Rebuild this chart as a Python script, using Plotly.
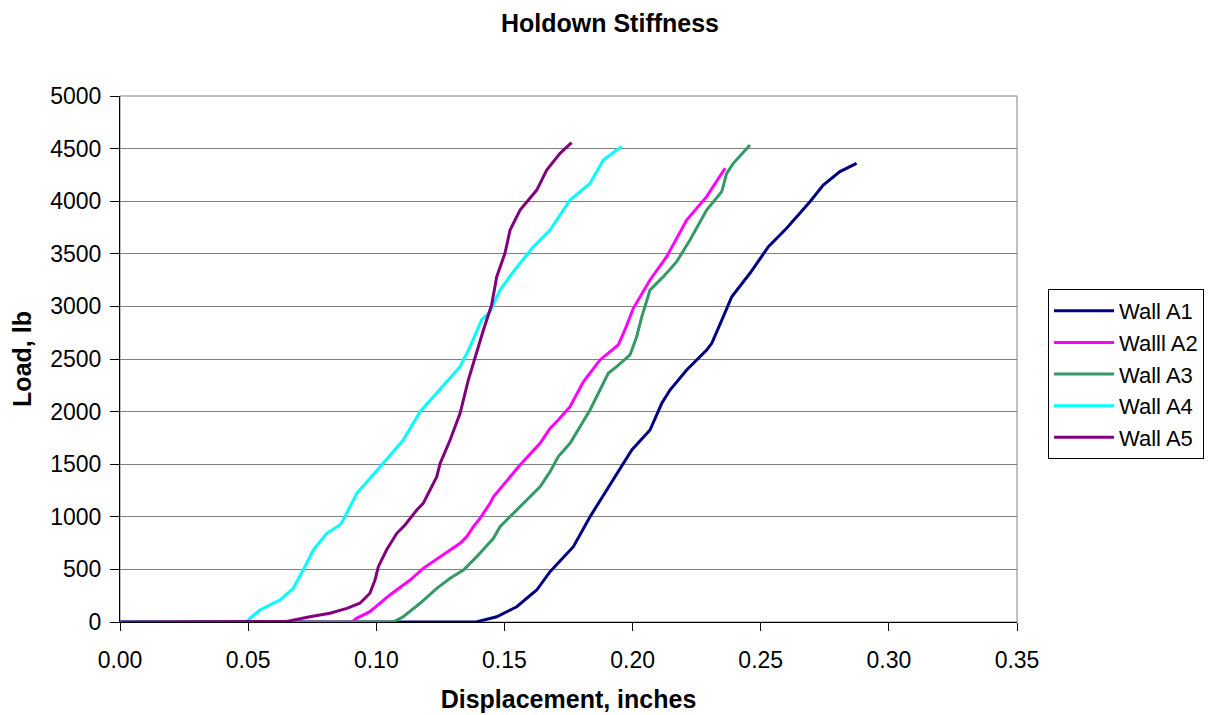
import plotly.graph_objects as go

# Wall A1
a1_x = [0.0, 0.139, 0.1405, 0.147, 0.1548, 0.1626, 0.1678, 0.1769, 0.1834, 0.1925, 0.1997, 0.2068,
        0.2114, 0.2146, 0.2211, 0.2289, 0.2309, 0.2354, 0.2387, 0.2458, 0.2530, 0.2601, 0.2692,
        0.2744, 0.2809, 0.2874]
a1_y = [0, 0, 10, 50, 145, 304, 478, 716, 1001, 1350, 1635, 1825,
        2079, 2205, 2395, 2586, 2649, 2902, 3092, 3315, 3568, 3742, 3995,
        4154, 4281, 4360]

# Walll A2
a2_x = [0.0, 0.0905, 0.0923, 0.0975, 0.1053, 0.1132, 0.1183, 0.1262, 0.1327, 0.1353, 0.1379, 0.1405,
        0.1444, 0.1457, 0.1561, 0.1639, 0.1678, 0.1710, 0.1756, 0.1808, 0.1873, 0.1944, 0.1970,
        0.2003, 0.2068, 0.2133, 0.2211, 0.2289, 0.2361]
a2_y = [0, 0, 35, 98, 257, 399, 510, 637, 748, 811, 906, 986,
        1128, 1191, 1492, 1699, 1841, 1920, 2047, 2284, 2491, 2633, 2776,
        2982, 3251, 3473, 3821, 4043, 4313]

# Wall A3
a3_x = [0.0, 0.1066, 0.1105, 0.1171, 0.1236, 0.1288, 0.1340, 0.1392, 0.1457, 0.1483, 0.1535, 0.1561,
        0.1587, 0.1639, 0.1678, 0.1710, 0.1756, 0.1834, 0.1905, 0.1938, 0.1990, 0.2016, 0.2036,
        0.2068, 0.2120, 0.2172, 0.2224, 0.2289, 0.2348, 0.2367, 0.2393, 0.2458]
a3_y = [0, 0, 50, 178, 320, 415, 494, 621, 796, 906, 1033, 1096,
        1160, 1286, 1429, 1572, 1699, 2015, 2364, 2427, 2538, 2712, 2902,
        3156, 3283, 3425, 3632, 3916, 4091, 4265, 4360, 4534]

# Wall A4
a4_x = [0.0, 0.0495, 0.0507, 0.0546, 0.0624, 0.0676, 0.0715, 0.0754, 0.0807, 0.0858, 0.0871, 0.0924,
        0.1027, 0.1105, 0.1171, 0.1236, 0.1281, 0.1327, 0.1366, 0.1411, 0.1444, 0.1483, 0.1535,
        0.1613, 0.1678, 0.1756, 0.1834, 0.1886, 0.1938, 0.1958]
a4_y = [0, 0, 35, 114, 209, 320, 494, 684, 843, 922, 970, 1223,
        1508, 1730, 1999, 2174, 2300, 2427, 2617, 2871, 2950, 3156, 3330,
        3568, 3726, 4011, 4170, 4392, 4487, 4518]

# Wall A5
a5_x = [0.0, 0.065, 0.0741, 0.0819, 0.0885, 0.0936, 0.0975, 0.0995, 0.1008, 0.1040, 0.1080, 0.1112,
        0.1158, 0.1183, 0.1236, 0.1249, 0.1288, 0.1327, 0.1359, 0.1378, 0.1418, 0.1450, 0.1470,
        0.1502, 0.1522, 0.1561, 0.1626, 0.1665, 0.1717, 0.1762]
a5_y = [0, 5, 50, 83, 130, 178, 273, 399, 526, 684, 843, 922,
        1065, 1128, 1381, 1508, 1730, 1984, 2300, 2459, 2776, 3013, 3283,
        3505, 3726, 3916, 4106, 4297, 4455, 4556]

names = ["Wall A1", "Walll A2", "Wall A3", "Wall A4", "Wall A5"]
colors = ["#000080", "#FF00FF", "#339966", "#00FFFF", "#800080"]
xs = [a1_x, a2_x, a3_x, a4_x, a5_x]
ys = [a1_y, a2_y, a3_y, a4_y, a5_y]

x_ticks = [0.0, 0.05, 0.10, 0.15, 0.20, 0.25, 0.30, 0.35]
x_tick_labels = ["0.00", "0.05", "0.10", "0.15", "0.20", "0.25", "0.30", "0.35"]
y_ticks = [0, 500, 1000, 1500, 2000, 2500, 3000, 3500, 4000, 4500, 5000]

fig = go.Figure()
for n, c, x, y in zip(names, colors, xs, ys):
    fig.add_trace(go.Scatter(x=x, y=y, mode="lines", name=n,
                             line=dict(color=c, width=3)))

font_family = "Liberation Sans, Arial, sans-serif"
W, H = 1221, 715
L, T, PW, PH = 112, 88, 897, 526
fig.update_layout(
    width=W, height=H,
    paper_bgcolor="white", plot_bgcolor="white",
    margin=dict(l=L, r=W - L - PW, t=T, b=H - T - PH),
    title=dict(text="<b>Holdown Stiffness</b>", x=602 / W, xanchor="center",
               y=1 - 15 / H, yanchor="middle",
               font=dict(family=font_family, size=25, color="black")),
    font=dict(family=font_family, color="black"),
    showlegend=True,
    legend=dict(x=1.0346, y=0.633, xanchor="left", yanchor="top",
                bordercolor="black", borderwidth=1, bgcolor="white",
                font=dict(family=font_family, size=22, color="black"),
                tracegroupgap=0, itemwidth=60),
    xaxis=dict(range=[0, 0.35], tickvals=x_ticks, ticktext=x_tick_labels,
               showgrid=False, zeroline=False,
               showline=True, linecolor="black", linewidth=1, mirror=False,
               ticks="outside", ticklen=8, tickcolor="black",
               ticklabelstandoff=9,
               tickfont=dict(size=23, color="black"),
               title=dict(text="<b>Displacement, inches</b>", font=dict(size=25, color="black"),
                          standoff=18)),
    yaxis=dict(range=[0, 5000], tickvals=y_ticks,
               showgrid=True, gridcolor="#808080", gridwidth=1, zeroline=False,
               showline=True, linecolor="black", linewidth=1,
               ticks="outside", ticklen=9, tickcolor="black",
               ticklabelstandoff=4,
               tickfont=dict(size=23, color="black"),
               title=dict(text="<b>Load, lb</b>", font=dict(size=25, color="black"),
                          standoff=12)),
)
# plot-area border (top and right)
fig.add_shape(type="rect", xref="paper", yref="paper", x0=0, y0=0, x1=1, y1=1,
              line=dict(color="#808080", width=1), layer="below")

fig.write_html("out.html")
